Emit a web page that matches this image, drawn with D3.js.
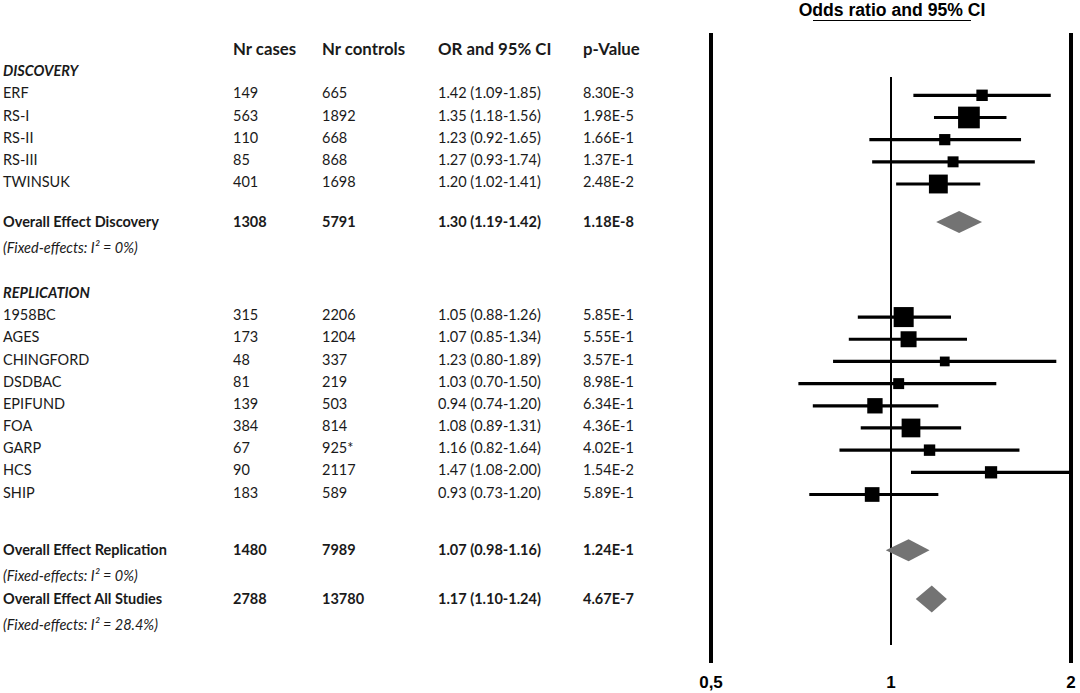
<!DOCTYPE html>
<html>
<head>
<meta charset="utf-8">
<script src="https://cdn.jsdelivr.net/npm/d3@7"></script>
<style>
  body { margin: 0; background: #fff; }
  .tbl { font-family: Lato, "Open Sans", sans-serif; font-size: 14.5px; fill: #1a1a1a; }
  .bold { font-weight: bold; }
  .ital { font-style: italic; }
  .head { font-size: 16.8px; }
  .plt { font-family: "Liberation Sans", Arial, sans-serif; font-weight: bold; fill: #000; }
</style>
</head>
<body>
<svg id="chart" width="1080" height="693"></svg>
<script>
// ---- data ----
var studyNames = ['ERF', 'RS-I', 'RS-II', 'RS-III', 'TWINSUK',
  '1958BC', 'AGES', 'CHINGFORD', 'DSDBAC', 'EPIFUND', 'FOA', 'GARP', 'HCS', 'SHIP'];
var studyGroup = ['D', 'D', 'D', 'D', 'D', 'R', 'R', 'R', 'R', 'R', 'R', 'R', 'R', 'R'];
var nCases = [149, 563, 110, 85, 401, 315, 173, 48, 81, 139, 384, 67, 90, 183];
var nControls = ['665', '1892', '668', '868', '1698', '2206', '1204', '337', '219', '503', '814', '925*', '2117', '589'];
var oddsRatio = [1.42, 1.35, 1.23, 1.27, 1.20, 1.05, 1.07, 1.23, 1.03, 0.94, 1.08, 1.16, 1.47, 0.93];
var ciLow = [1.09, 1.18, 0.92, 0.93, 1.02, 0.88, 0.85, 0.80, 0.70, 0.74, 0.89, 0.82, 1.08, 0.73];
var ciHigh = [1.85, 1.56, 1.65, 1.74, 1.41, 1.26, 1.34, 1.89, 1.50, 1.20, 1.31, 1.64, 2.00, 1.20];
var pValues = ['8.30E-3', '1.98E-5', '1.66E-1', '1.37E-1', '2.48E-2',
  '5.85E-1', '5.55E-1', '3.57E-1', '8.98E-1', '6.34E-1', '4.36E-1', '4.02E-1', '1.54E-2', '5.89E-1'];
// relative study weight
var studyWeight = [2.6, 9.4, 2.5, 2.4, 7.1, 8.0, 5.1, 1.9, 2.4, 4.7, 7.0, 2.6, 3.0, 4.3];

var pooledNames = ['Overall Effect Discovery', 'Overall Effect Replication', 'Overall Effect All Studies'];
var pooledCases = [1308, 1480, 2788];
var pooledControls = [5791, 7989, 13780];
var pooledOR = [1.30, 1.07, 1.17];
var pooledLow = [1.19, 0.98, 1.10];
var pooledHigh = [1.42, 1.16, 1.24];
var pooledP = ['1.18E-8', '1.24E-1', '4.67E-7'];
var pooledI2 = ['0%', '0%', '28.4%'];

var sectionNames = ['DISCOVERY', 'REPLICATION'];
var columnHeaders = ['Nr cases', 'Nr controls', 'OR and 95% CI', 'p-Value'];
var axisTicks = [0.5, 1, 2];
var tickLabels = ['0,5', '1', '2'];

// ---- layout ----
var svg = d3.select('#chart');
var colX = [3, 233, 322, 438, 583];
var sectionSlot = [-1, 9];
var pooledSlot = [5.8, 20.6, 22.8];
var diamondH = [22, 22, 27];

var y = d3.scaleLinear().domain([0, 18]).range([93.3, 492.5]);
var x = d3.scaleLog().domain([0.5, 2]).range([711, 1071]);
var box = d3.scaleSqrt().domain([0, 9.4]).range([0, 21.7]);
var fmt = d3.format('.2f');

function studySlot(i) {
  return studyGroup[i] == 'D' ? i : i + 5;
}

var tbl = svg.append('g').attr('class', 'tbl');

function addText(g, tx, ty, str, cls) {
  return g.append('text')
    .attr('x', tx).attr('y', ty).attr('dy', '0.35em')
    .attr('class', cls || null)
    .text(str);
}

// header
columnHeaders.forEach(function(h, i) {
  addText(tbl, colX[i + 1], y(-2), h, 'bold head');
});
sectionNames.forEach(function(s, i) {
  addText(tbl, colX[0], y(sectionSlot[i]), s, 'bold ital');
});

// study rows
studyNames.forEach(function(name, i) {
  var yy = y(studySlot(i));
  addText(tbl, colX[0], yy, name);
  addText(tbl, colX[1], yy, nCases[i]);
  addText(tbl, colX[2], yy, nControls[i]);
  addText(tbl, colX[3], yy, fmt(oddsRatio[i]) + ' (' + fmt(ciLow[i]) + '-' + fmt(ciHigh[i]) + ')');
  addText(tbl, colX[4], yy, pValues[i]);
});

// pooled rows
pooledNames.forEach(function(name, i) {
  var yy = y(pooledSlot[i]);
  addText(tbl, colX[0], yy, name, 'bold');
  addText(tbl, colX[1], yy, pooledCases[i], 'bold');
  addText(tbl, colX[2], yy, pooledControls[i], 'bold');
  addText(tbl, colX[3], yy, fmt(pooledOR[i]) + ' (' + fmt(pooledLow[i]) + '-' + fmt(pooledHigh[i]) + ')', 'bold');
  addText(tbl, colX[4], yy, pooledP[i], 'bold');
  addText(tbl, colX[0], y(pooledSlot[i] + 1.15), '(Fixed-effects: I\u00B2 = ' + pooledI2[i] + ')', 'ital');
});

// ---- forest plot ----
var plt = svg.append('g');

// title
plt.append('text')
  .attr('class', 'plt')
  .attr('x', 892).attr('y', 16)
  .attr('text-anchor', 'middle')
  .style('font-size', '17.6px')
  .text('Odds ratio and 95% CI');
plt.append('line')
  .attr('x1', 813).attr('x2', 971)
  .attr('y1', 20.5).attr('y2', 20.5)
  .attr('stroke', '#000').attr('stroke-width', 1);

// frame lines at 0.5 and 2, reference line at 1
plt.selectAll('line.frame')
  .data([0.5, 2])
  .enter().append('line')
  .attr('class', 'frame')
  .attr('x1', function(d) { return x(d); })
  .attr('x2', function(d) { return x(d); })
  .attr('y1', 33).attr('y2', 663)
  .attr('stroke', '#000').attr('stroke-width', 4);
plt.append('line')
  .attr('x1', x(1)).attr('x2', x(1))
  .attr('y1', 77).attr('y2', 645)
  .attr('stroke', '#000').attr('stroke-width', 2);

// CI lines
var idx = d3.range(studyNames.length);
plt.selectAll('line.ci')
  .data(idx)
  .enter().append('line')
  .attr('class', 'ci')
  .attr('x1', function(i) { return x(ciLow[i]); })
  .attr('x2', function(i) { return x(ciHigh[i]); })
  .attr('y1', function(i) { return y(studySlot(i)) + 2; })
  .attr('y2', function(i) { return y(studySlot(i)) + 2; })
  .attr('stroke', '#000').attr('stroke-width', 3.2);

// weight boxes
plt.selectAll('rect.box')
  .data(idx)
  .enter().append('rect')
  .attr('class', 'box')
  .attr('x', function(i) { return x(oddsRatio[i]) - box(studyWeight[i]) / 2; })
  .attr('y', function(i) { return y(studySlot(i)) + 2 - box(studyWeight[i]) / 2; })
  .attr('width', function(i) { return box(studyWeight[i]); })
  .attr('height', function(i) { return box(studyWeight[i]); })
  .attr('fill', '#000');

// pooled diamonds
plt.selectAll('path.diamond')
  .data(d3.range(pooledNames.length))
  .enter().append('path')
  .attr('class', 'diamond')
  .attr('d', function(i) {
    var yy = y(pooledSlot[i]), h = diamondH[i] / 2;
    return 'M' + x(pooledLow[i]) + ',' + yy +
      'L' + x(pooledOR[i]) + ',' + (yy - h) +
      'L' + x(pooledHigh[i]) + ',' + yy +
      'L' + x(pooledOR[i]) + ',' + (yy + h) + 'Z';
  })
  .attr('fill', '#737373');

// axis labels
plt.selectAll('text.tick')
  .data(axisTicks)
  .enter().append('text')
  .attr('class', 'plt tick')
  .attr('x', function(d) { return x(d); })
  .attr('y', 682).attr('dy', '0.35em')
  .attr('text-anchor', 'middle')
  .style('font-size', '17px')
  .text(function(d, i) { return tickLabels[i]; });
</script>
</body>
</html>
